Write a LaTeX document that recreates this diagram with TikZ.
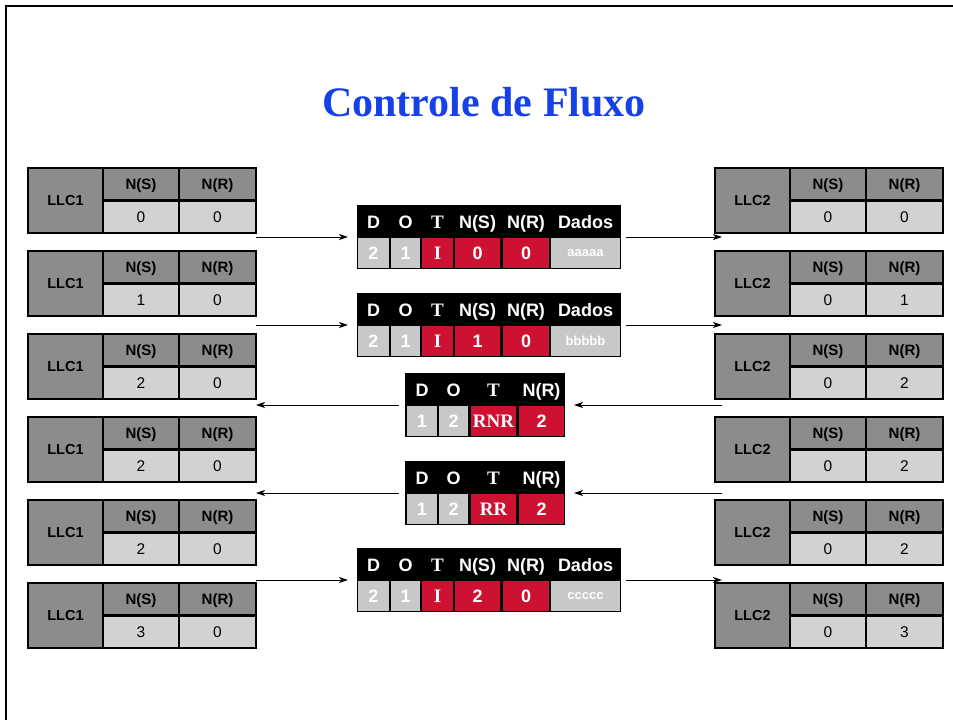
\documentclass[tikz,border=0pt]{standalone}
\usepackage{fontspec}
\setmainfont{Liberation Serif}
\setsansfont{Liberation Sans}
\usetikzlibrary{arrows.meta,positioning}

\definecolor{llcdark}{RGB}{140,140,140}
\definecolor{llclight}{RGB}{210,210,210}
\definecolor{fgray}{RGB}{200,200,200}
\definecolor{fred}{RGB}{205,17,50}
\definecolor{titleblue}{RGB}{22,64,232}

\newcommand{\fsize}[1]{\fontsize{#1}{#1}\selectfont}

% state table of one LLC station: name, x, y, label, N(S), N(R)
\newcommand{\llcstate}[6]{%
  \node[llc] (#1) at (#2,#3) {#4};
  \node[hdcell, minimum width=76pt] (#1-ns) at (#1.north east) {N(S)};
  \node[hdcell, minimum width=77pt] (#1-nr) at (#1-ns.north east) {N(R)};
  \node[valcell, minimum width=76pt] (#1-vs) at (#1-ns.south west) {#5};
  \node[valcell, minimum width=77pt] (#1-vr) at (#1-nr.south west) {#6};
}

% I-frame: name, x, y, D, O, N(S), N(R), dados
\newcommand{\dataframe}[8]{%
  \begin{scope}[shift={(#2,#3)}]
    \node[frame, minimum width=264pt] (#1) at (0,0) {};
    \node[fhead] (#1-hd) at (16.5,23) {D};
    \node[fhead] (#1-ho) at (48.5,23) {O};
    \node[fhead, font=\rmfamily\bfseries\fsize{19}] (#1-ht) at (80.5,23) {T};
    \node[fhead] (#1-hs) at (120.5,23) {N(S)};
    \node[fhead] (#1-hr) at (169,23) {N(R)};
    \node[fhead] (#1-hx) at (228.5,23) {Dados};
    \node[field, fill=fgray, minimum width=31pt] (#1-d) at (1,33) {#4};
    \node[field, fill=fgray, minimum width=29pt] (#1-o) at (34,33) {#5};
    \node[field, fill=fred, minimum width=31pt, font=\rmfamily\bfseries\fsize{19}] (#1-t) at (65,33) {I};
    \node[field, fill=fred, minimum width=45pt] (#1-s) at (98,33) {#6};
    \node[field, fill=fred, minimum width=46pt] (#1-r) at (146,33) {#7};
    \node[field, fill=fgray, minimum width=69pt, font=\sffamily\bfseries\fsize{13}] (#1-x) at (194,33) {#8};
  \end{scope}}

% supervisory frame: name, x, y, D, O, type, N(R)
\newcommand{\supframe}[7]{%
  \begin{scope}[shift={(#2,#3)}]
    \node[frame, minimum width=160pt] (#1) at (0,0) {};
    \node[fhead] (#1-hd) at (17,23) {D};
    \node[fhead] (#1-ho) at (48.5,23) {O};
    \node[fhead, font=\rmfamily\bfseries\fsize{19}] (#1-ht) at (88.5,23) {T};
    \node[fhead] (#1-hr) at (136.5,23) {N(R)};
    \node[field, fill=fgray, minimum width=30pt] (#1-d) at (2,33) {#4};
    \node[field, fill=fgray, minimum width=29pt] (#1-o) at (34,33) {#5};
    \node[field, fill=fred, minimum width=45pt, font=\rmfamily\bfseries\fsize{19}] (#1-t) at (66,33) {#6};
    \node[field, fill=fred, minimum width=45pt] (#1-r) at (114,33) {#7};
  \end{scope}}

\begin{document}
\begin{tikzpicture}[
    x=1pt, y=-1pt,
    cell/.style={draw=black, line width=2.5pt, inner sep=0pt, outer sep=0pt,
      anchor=north west, text height=10.5pt, text depth=0pt},
    llc/.style={cell, fill=llcdark, minimum width=75pt, minimum height=65pt,
      font=\sffamily\bfseries\fsize{14.5}},
    hdcell/.style={cell, fill=llcdark, minimum height=32.5pt,
      font=\sffamily\bfseries\fsize{15}},
    valcell/.style={cell, fill=llclight, minimum height=32.5pt,
      font=\sffamily\fsize{15.5}},
    frame/.style={fill=black, inner sep=0pt, outer sep=0pt, anchor=north west,
      minimum height=64pt},
    fhead/.style={anchor=base, inner sep=0pt, text=white,
      font=\sffamily\bfseries\fsize{18}},
    field/.style={inner sep=0pt, outer sep=0pt, anchor=north west,
      minimum height=30pt, text=white, font=\sffamily\bfseries\fsize{18}},
    msg/.style={-{Stealth[length=9pt,width=6pt,inset=2.5pt]}, line width=0.9pt}
]
    \useasboundingbox (0,0) rectangle (953,720);

    % slide border
    \draw[line width=2pt] (6,720) -- (6,6) -- (953,6);

    \node[anchor=base, text=titleblue, font=\rmfamily\bfseries\fsize{42}]
      (title) at (484,116) {Controle de Fluxo};

    % station LLC1
    \llcstate{L1}{28}{168}{LLC1}{0}{0}
    \llcstate{L2}{28}{251}{LLC1}{1}{0}
    \llcstate{L3}{28}{334}{LLC1}{2}{0}
    \llcstate{L4}{28}{417}{LLC1}{2}{0}
    \llcstate{L5}{28}{500}{LLC1}{2}{0}
    \llcstate{L6}{28}{583}{LLC1}{3}{0}

    % station LLC2
    \llcstate{R1}{715}{168}{LLC2}{0}{0}
    \llcstate{R2}{715}{251}{LLC2}{0}{1}
    \llcstate{R3}{715}{334}{LLC2}{0}{2}
    \llcstate{R4}{715}{417}{LLC2}{0}{2}
    \llcstate{R5}{715}{500}{LLC2}{0}{2}
    \llcstate{R6}{715}{583}{LLC2}{0}{3}

    % frames on the link
    \dataframe{F1}{357}{205}{2}{1}{0}{0}{aaaaa}
    \dataframe{F2}{357}{293}{2}{1}{1}{0}{bbbbb}
    \supframe{S1}{405}{373}{1}{2}{RNR}{2}
    \supframe{S2}{405}{461}{1}{2}{RR}{2}
    \dataframe{F3}{357}{548}{2}{1}{2}{0}{ccccc}

    % LLC2 side of the link
    \coordinate (R-in) at ([xshift=7pt]R1.west);

    % LLC1 -> LLC2
    \draw[msg] (L1-vr.east |- F1.west) -- ([xshift=-9pt]F1.west);
    \draw[msg] ([xshift=5pt]F1.east) -- (R-in |- F1.east);
    \draw[msg] (L2-vr.east |- F2.west) -- ([xshift=-9pt]F2.west);
    \draw[msg] ([xshift=5pt]F2.east) -- (R-in |- F2.east);

    % LLC2 -> LLC1
    \draw[msg] (R-in |- S1.east) -- ([xshift=9pt]S1.east);
    \draw[msg] ([xshift=-6pt]S1.west) -- (L3-vr.east |- S1.west);
    \draw[msg] (R-in |- S2.east) -- ([xshift=9pt]S2.east);
    \draw[msg] ([xshift=-6pt]S2.west) -- (L4-vr.east |- S2.west);

    % LLC1 -> LLC2 again
    \draw[msg] (L5-vr.east |- F3.west) -- ([xshift=-9pt]F3.west);
    \draw[msg] ([xshift=5pt]F3.east) -- (R-in |- F3.east);
\end{tikzpicture}
\end{document}
